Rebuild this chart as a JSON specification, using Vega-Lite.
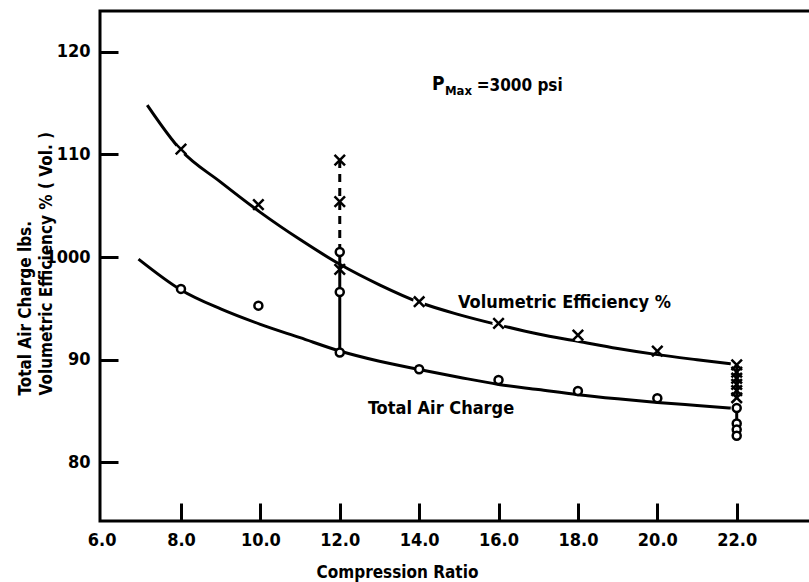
{
  "$schema": "https://vega.github.io/schema/vega-lite/v6.json",
  "width": 730,
  "height": 510,
  "autosize": {"type": "none"},
  "padding": {"left": 100, "top": 11, "right": 0, "bottom": 61},
  "background": "white",
  "config": {
    "font": "DejaVu Sans Condensed",
    "view": {"stroke": "black", "strokeWidth": 3},
    "axis": {
      "domain": false,
      "grid": false,
      "labelFont": "DejaVu Sans Condensed",
      "labelFontWeight": "bold",
      "labelColor": "black",
      "labelFontSize": 18,
      "titleFont": "DejaVu Sans Condensed",
      "titleFontWeight": "bold",
      "titleColor": "black",
      "titleFontSize": 17,
      "tickColor": "black",
      "tickWidth": 3,
      "tickSize": -18
    }
  },
  "datasets": {
    "curves": [
      {"series": "ve", "ratio": 7.15, "value": 114.8},
      {"series": "ve", "ratio": 8, "value": 110.4},
      {"series": "ve", "ratio": 9, "value": 107.3},
      {"series": "ve", "ratio": 10, "value": 104.35},
      {"series": "ve", "ratio": 11, "value": 101.7},
      {"series": "ve", "ratio": 12, "value": 99.3},
      {"series": "ve", "ratio": 13, "value": 97.3},
      {"series": "ve", "ratio": 14, "value": 95.6},
      {"series": "ve", "ratio": 15, "value": 94.4},
      {"series": "ve", "ratio": 16, "value": 93.4},
      {"series": "ve", "ratio": 17, "value": 92.5},
      {"series": "ve", "ratio": 18, "value": 91.8},
      {"series": "ve", "ratio": 19, "value": 91.1},
      {"series": "ve", "ratio": 20, "value": 90.5},
      {"series": "ve", "ratio": 21, "value": 90.0},
      {"series": "ve", "ratio": 21.85, "value": 89.6},
      {"series": "ac", "ratio": 6.93, "value": 99.8},
      {"series": "ac", "ratio": 8, "value": 96.8},
      {"series": "ac", "ratio": 9, "value": 94.95},
      {"series": "ac", "ratio": 10, "value": 93.45},
      {"series": "ac", "ratio": 11, "value": 92.15},
      {"series": "ac", "ratio": 12, "value": 90.85},
      {"series": "ac", "ratio": 13, "value": 89.85},
      {"series": "ac", "ratio": 14, "value": 89.05},
      {"series": "ac", "ratio": 15, "value": 88.3},
      {"series": "ac", "ratio": 16, "value": 87.6},
      {"series": "ac", "ratio": 17, "value": 87.1},
      {"series": "ac", "ratio": 18, "value": 86.6},
      {"series": "ac", "ratio": 19, "value": 86.2},
      {"series": "ac", "ratio": 20, "value": 85.85},
      {"series": "ac", "ratio": 21, "value": 85.55},
      {"series": "ac", "ratio": 21.85, "value": 85.3}
    ],
    "points": [
      {"series": "ve", "ratio": 8, "value": 110.5},
      {"series": "ve", "ratio": 9.95, "value": 105.1},
      {"series": "ve", "ratio": 12, "value": 109.45},
      {"series": "ve", "ratio": 12, "value": 105.4},
      {"series": "ve", "ratio": 12, "value": 98.8},
      {"series": "ve", "ratio": 14, "value": 95.65},
      {"series": "ve", "ratio": 16, "value": 93.55},
      {"series": "ve", "ratio": 18, "value": 92.4},
      {"series": "ve", "ratio": 20, "value": 90.85},
      {"series": "ve", "ratio": 22, "value": 89.5},
      {"series": "ve", "ratio": 22, "value": 88.8},
      {"series": "ve", "ratio": 22, "value": 88.2},
      {"series": "ve", "ratio": 22, "value": 87.6},
      {"series": "ve", "ratio": 22, "value": 87.0},
      {"series": "ve", "ratio": 22, "value": 86.3},
      {"series": "ac", "ratio": 8, "value": 96.9},
      {"series": "ac", "ratio": 9.95, "value": 95.27},
      {"series": "ac", "ratio": 12, "value": 100.5},
      {"series": "ac", "ratio": 12, "value": 96.6},
      {"series": "ac", "ratio": 12, "value": 90.7},
      {"series": "ac", "ratio": 14, "value": 89.07},
      {"series": "ac", "ratio": 16, "value": 88.03},
      {"series": "ac", "ratio": 18, "value": 86.96},
      {"series": "ac", "ratio": 20, "value": 86.25},
      {"series": "ac", "ratio": 22, "value": 85.3},
      {"series": "ac", "ratio": 22, "value": 83.8},
      {"series": "ac", "ratio": 22, "value": 83.2},
      {"series": "ac", "ratio": 22, "value": 82.6}
    ],
    "segments": [
      {"style": "dashed", "ratio": 12, "value": 109.45, "value2": 100.5},
      {"style": "solid", "ratio": 12, "value": 100.5, "value2": 90.7},
      {"style": "solid", "ratio": 22, "value": 89.5, "value2": 86.3},
      {"style": "solid", "ratio": 22, "value": 85.3, "value2": 82.6}
    ]
  },
  "encoding": {
    "x": {
      "field": "ratio",
      "type": "quantitative",
      "scale": {"domain": [5.96, 24.35], "nice": false, "zero": false},
      "axis": {
        "values": [6, 8, 10, 12, 14, 16, 18, 20, 22],
        "format": ".1f",
        "labelPadding": 28,
        "tickOpacity": {"condition": {"test": "datum.value == 6", "value": 0}, "value": 1},
        "title": "Compression Ratio",
        "titleX": 297,
        "titleY": 56,
        "titleBaseline": "alphabetic",
        "titleAlign": "center"
      }
    },
    "y": {
      "field": "value",
      "type": "quantitative",
      "scale": {"domain": [74.3, 123.96], "nice": false, "zero": false},
      "axis": {
        "values": [80, 90, 100, 110, 120],
        "labelExpr": "datum.value == 100 ? '1000' : datum.label",
        "labelPadding": 28,
        "title": ["Total Air Charge lbs.", "Volumetric Efficiency % ( Vol. )"],
        "titleFontSize": 17,
        "titleLineHeight": 21,
        "titleAngle": -90,
        "titleAlign": "left",
        "titleBaseline": "alphabetic",
        "titleX": -70,
        "titleY": 384
      }
    }
  },
  "layer": [
    {
      "data": {"name": "curves"},
      "mark": {"type": "line", "interpolate": "monotone", "stroke": "black", "strokeWidth": 3},
      "encoding": {"detail": {"field": "series"}}
    },
    {
      "data": {"name": "points"},
      "transform": [{"filter": "datum.series == 've' && indexof([8, 14, 16, 18], datum.ratio) >= 0"}],
      "mark": {"type": "point", "shape": "circle", "filled": true, "fill": "white", "stroke": null, "size": 150, "opacity": 1}
    },
    {
      "data": {"name": "segments"},
      "transform": [{"filter": "datum.style == 'dashed'"}],
      "mark": {"type": "rule", "stroke": "black", "strokeWidth": 3, "strokeDash": [8, 6]},
      "encoding": {"y2": {"field": "value2"}}
    },
    {
      "data": {"name": "segments"},
      "transform": [{"filter": "datum.style == 'solid'"}],
      "mark": {"type": "rule", "stroke": "black", "strokeWidth": 3},
      "encoding": {"y2": {"field": "value2"}}
    },
    {
      "data": {"name": "points"},
      "transform": [{"filter": "datum.series == 've'"}],
      "mark": {"type": "point", "shape": "M-1,-1L1,1M-1,1L1,-1", "filled": false, "stroke": "black", "strokeWidth": 2.5, "size": 110, "opacity": 1}
    },
    {
      "data": {"name": "points"},
      "transform": [{"filter": "datum.series == 'ac'"}],
      "mark": {"type": "point", "shape": "circle", "filled": false, "fill": "white", "fillOpacity": 1, "stroke": "black", "strokeWidth": 2.5, "size": 64, "opacity": 1}
    },
    {
      "data": {"values": [{"ratio": 14.325, "value": 116.27, "label": "P"}]},
      "mark": {"type": "text", "align": "left", "baseline": "alphabetic", "fontSize": 19, "fontWeight": "bold", "color": "black"},
      "encoding": {"text": {"field": "label"}}
    },
    {
      "data": {"values": [{"ratio": 14.65, "value": 115.8, "label": "Max"}]},
      "mark": {"type": "text", "align": "left", "baseline": "alphabetic", "fontSize": 13, "fontWeight": "bold", "color": "black"},
      "encoding": {"text": {"field": "label"}}
    },
    {
      "data": {"values": [{"ratio": 15.45, "value": 116.17, "label": "=3000 psi"}]},
      "mark": {"type": "text", "align": "left", "baseline": "alphabetic", "fontSize": 17, "fontWeight": "bold", "color": "black"},
      "encoding": {"text": {"field": "label"}}
    },
    {
      "data": {"values": [
        {"ratio": 14.98, "value": 95.04, "label": "Volumetric Efficiency %"},
        {"ratio": 12.71, "value": 84.72, "label": "Total Air Charge"}
      ]},
      "mark": {"type": "text", "align": "left", "baseline": "alphabetic", "fontSize": 18, "fontWeight": "bold", "color": "black"},
      "encoding": {"text": {"field": "label"}}
    }
  ]
}
